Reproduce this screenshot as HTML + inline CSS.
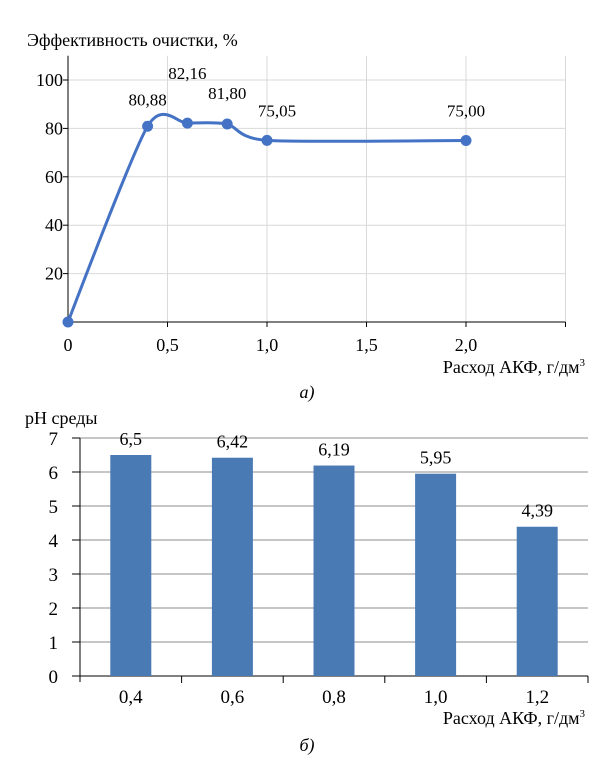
<!DOCTYPE html>
<html><head><meta charset="utf-8"><style>
body{margin:0;background:#fff}
svg{display:block;font-family:"Liberation Serif",serif}
</style></head><body>
<svg id="s" width="615" height="765">
<text x="27" y="46" font-size="18">Эффективность очистки, %</text>
<text x="585" y="373" font-size="18" text-anchor="end">Расход АКФ, г/дм<tspan dy="-7" font-size="11">3</tspan></text>
<text x="307" y="398" font-size="18" font-style="italic" text-anchor="middle">а)</text>
<text x="25" y="424" font-size="18">pH среды</text>
<text x="585" y="724" font-size="18" text-anchor="end">Расход АКФ, г/дм<tspan dy="-7" font-size="11">3</tspan></text>
<text x="307" y="751" font-size="18" font-style="italic" text-anchor="middle">б)</text>
<g id="a"></g>
<g id="b"></g>
</svg>
<script>
const lineX=[0,0.4,0.6,0.8,1.0,2.0];
const lineY=[0,80.88,82.16,81.80,75.05,75.00];
const lineLabels=["","80,88","82,16","81,80","75,05","75,00"];
const xTicksA=[0,0.5,1.0,1.5,2.0];
const xTickLabelsA=["0","0,5","1,0","1,5","2,0"];
const yTicksA=[20,40,60,80,100];
const barCats=["0,4","0,6","0,8","1,0","1,2"];
const barVals=[6.5,6.42,6.19,5.95,4.39];
const barLabels=["6,5","6,42","6,19","5,95","4,39"];
const yTicksB=[0,1,2,3,4,5,6,7];
const NS="http://www.w3.org/2000/svg";
function mk(p,t,a,txt){const e=document.createElementNS(NS,t);for(const k in a)e.setAttribute(k,a[k]);if(txt!==undefined)e.textContent=txt;p.appendChild(e);return e;}
// chart A
const A=document.getElementById('a');
const ax=v=>68+v*199, ay=v=>322-v*2.42;
for(const t of xTicksA.concat([2.5])){if(t>0){const g=mk(A,'line',{x1:ax(t),x2:ax(t),y1:ay(110),y2:ay(0),stroke:'#d9d9d9'});}}
yTicksA.forEach(t=>{const g=mk(A,'line',{x1:ax(0),x2:ax(2.5),y1:ay(t),y2:ay(t),stroke:'#d9d9d9'});
const tk=mk(A,'line',{x1:ax(0)-5,x2:ax(0),y1:ay(t),y2:ay(t),stroke:'#000'});
const l=mk(A,'text',{x:63,y:ay(t)+6,'font-size':18,'text-anchor':'end'},String(t));});
let e=mk(A,'line',{x1:ax(0),x2:ax(0),y1:ay(110),y2:ay(0),stroke:'#000'});
e=mk(A,'line',{x1:ax(0),x2:ax(2.5),y1:ay(0),y2:ay(0),stroke:'#000'});
xTicksA.concat([2.5]).forEach(t=>{const tk=mk(A,'line',{x1:ax(t),x2:ax(t),y1:ay(0),y2:ay(0)+5,stroke:'#000'});});
xTicksA.forEach((t,i)=>{const l=mk(A,'text',{x:ax(t),y:351,'font-size':18,'text-anchor':'middle'},xTickLabelsA[i]);});
const P=lineX.map((x,i)=>[ax(x),ay(lineY[i])]);
let d=`M${P[0][0]},${P[0][1]}`;
for(let i=0;i<P.length-1;i++){const p0=P[Math.max(0,i-1)],p1=P[i],p2=P[i+1],p3=P[Math.min(P.length-1,i+2)];const k=i==0?0.02:1/8;
d+=` C${p1[0]+(p2[0]-p0[0])*k},${p1[1]+(p2[1]-p0[1])*k} ${p2[0]-(p3[0]-p1[0])/8},${p2[1]-(p3[1]-p1[1])/8} ${p2[0]},${p2[1]}`;}
e=mk(A,'path',{d:d,fill:'none',stroke:'#4472c4','stroke-width':3});
const off=[[0,0],[0,-21],[0,-44],[0,-25],[10,-24],[0,-24]];
P.forEach((p,i)=>{const c=mk(A,'circle',{cx:p[0],cy:p[1],r:5.5,fill:'#4472c4'});
if(lineLabels[i]){const l=mk(A,'text',{x:p[0]+off[i][0],y:p[1]+off[i][1],'font-size':17,'text-anchor':'middle'},lineLabels[i]);}});
// chart B
const B=document.getElementById('b');
const bx0=80,bw=101.6,by=v=>676-v*34;
yTicksB.forEach(t=>{if(t>0){const g=mk(B,'line',{x1:bx0,x2:588,y1:by(t),y2:by(t),stroke:'#8c8c8c'});}
const tk=mk(B,'line',{x1:72,x2:bx0,y1:by(t),y2:by(t),stroke:'#000'});
const l=mk(B,'text',{x:58,y:by(t)+7,'font-size':19,'text-anchor':'end'},String(t));});
e=mk(B,'line',{x1:bx0,x2:bx0,y1:by(7),y2:by(0)+6,stroke:'#000'});
e=mk(B,'line',{x1:bx0,x2:588,y1:by(0),y2:by(0),stroke:'#000'});
for(let i=1;i<=barCats.length;i++){const tk=mk(B,'line',{x1:bx0+i*bw,x2:bx0+i*bw,y1:by(0),y2:by(0)+7,stroke:'#000'});}
barVals.forEach((v,i)=>{const cx=bx0+bw*(i+0.5);
const r=mk(B,'rect',{x:cx-20.5,y:by(v),width:41,height:by(0)-by(v),fill:'#4a7ab4'});
const l=mk(B,'text',{x:cx,y:by(v)-10,'font-size':18,'text-anchor':'middle'},barLabels[i]);
const c=mk(B,'text',{x:cx,y:703,'font-size':19,'text-anchor':'middle'},barCats[i]);});
</script>
</body></html>
